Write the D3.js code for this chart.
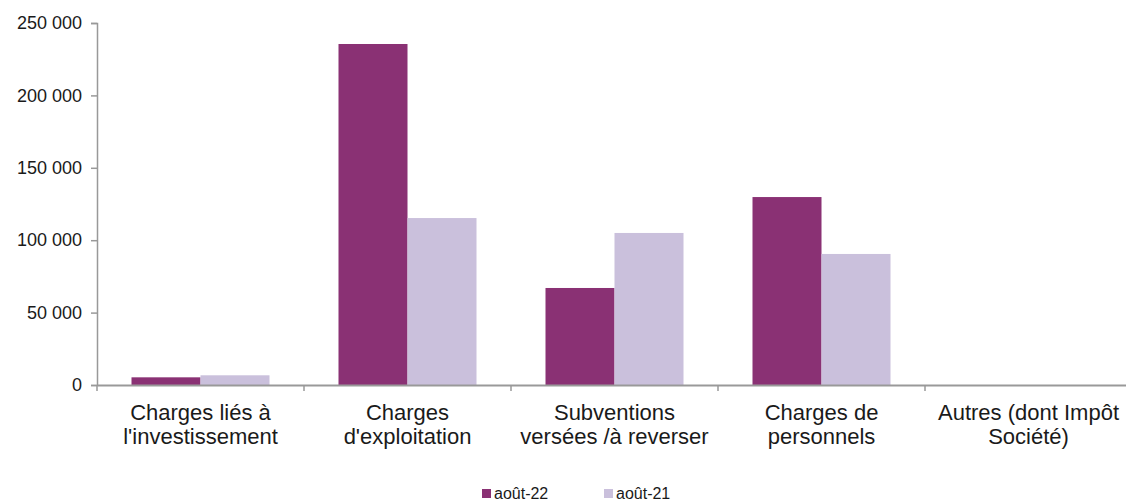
<!DOCTYPE html>
<html>
<head>
<meta charset="utf-8">
<script src="https://cdn.jsdelivr.net/npm/d3@7"></script>
<style>
  body { margin: 0; background: #fff; }
  text { font-family: "Liberation Sans", Arial, sans-serif; fill: #1a1a1a; }
</style>
</head>
<body>
<div id="chart"></div>
<script>
// categories (two-line labels)
const categories = ["Charges liés à|l'investissement", "Charges|d'exploitation", "Subventions|versées /à reverser", "Charges de|personnels", "Autres (dont Impôt|Société)"];
const series = ["août-22", "août-21"];
const aout22 = [5300, 235500, 67000, 129800, 0];
const aout21 = [6700, 115300, 105000, 90500, 0];
const yTicks = [0, 50000, 100000, 150000, 200000, 250000];

const colors = {"août-22": "#8a3174", "août-21": "#cac0dc"};

const width = 1126, height = 502;
const plotLeft = 97, plotRight = 1132, plotTop = 23, plotBottom = 385;

const svg = d3.select("#chart")
              .append("svg")
              .attr("width", width)
              .attr("height", height);

const data = categories.map(function(c, i) {
    return {cat: c, values: [{s: series[0], v: aout22[i]}, {s: series[1], v: aout21[i]}]};
});

// X scale: band per category, bars take 2/3 of band
const x = d3.scaleBand()
            .domain(categories)
            .range([plotLeft, plotRight])
            .paddingInner(0)
            .paddingOuter(0);

const xs = d3.scaleBand()
             .domain(series)
             .range([x.bandwidth() / 6, x.bandwidth() * 5 / 6]);

const y = d3.scaleLinear()
            .domain([0, 250000])
            .range([plotBottom, plotTop]);

const fmt = function(d) { return d3.format(",")(d).replace(/,/g, " "); };

// Y axis
const yAxis = svg.append("g")
   .attr("transform", `translate(${plotLeft},0)`)
   .call(d3.axisLeft(y).tickValues(yTicks).tickFormat(fmt).tickSize(6).tickPadding(9));
yAxis.select(".domain").attr("stroke", "#999").attr("stroke-width", 1.5);
yAxis.selectAll(".tick line").attr("stroke", "#999").attr("stroke-width", 1.5);
yAxis.selectAll("text").style("font-size", "18px").attr("fill", "#1a1a1a")
     .style("font-family", "'Liberation Sans', Arial, sans-serif");

// bars
svg.append("g")
   .selectAll("g")
   .data(data)
   .enter()
   .append("g")
   .attr("transform", function(d) { return `translate(${x(d.cat)},0)`; })
   .selectAll("rect")
   .data(function(d) { return d.values; })
   .enter()
   .append("rect")
    .attr("x", function(d) { return xs(d.s); })
    .attr("y", function(d) { return y(d.v); })
    .attr("width", xs.bandwidth())
    .attr("height", function(d) { return plotBottom - y(d.v); })
    .attr("fill", function(d) { return colors[d.s]; });

// X axis
const xAxis = svg.append("g")
   .attr("transform", `translate(0,${plotBottom})`)
   .call(d3.axisBottom(x).tickSize(0).tickFormat(""));
xAxis.select(".domain").attr("stroke", "#999").attr("stroke-width", 2);

// tick marks between categories
svg.append("g")
   .selectAll("line")
   .data(categories)
   .enter()
   .append("line")
    .attr("x1", function(d) { return x(d); })
    .attr("x2", function(d) { return x(d); })
    .attr("y1", plotBottom)
    .attr("y2", plotBottom + 6)
    .attr("stroke", "#999")
    .attr("stroke-width", 1.5);

// category labels
svg.append("g")
   .selectAll("text")
   .data(categories)
   .enter()
   .append("text")
    .attr("text-anchor", "middle")
    .style("font-size", "22px")
    .attr("transform", function(d) { return `translate(${x(d) + x.bandwidth() / 2},420)`; })
    .each(function(d) {
        const lines = d.split("|");
        d3.select(this).selectAll("tspan")
          .data(lines)
          .enter()
          .append("tspan")
          .attr("x", 0)
          .attr("dy", function(l, i) { return i === 0 ? 0 : 24; })
          .text(function(l) { return l; });
    });

// legend
const legendX = [482, 604];
const legend = svg.append("g")
   .selectAll("g")
   .data(series)
   .enter()
   .append("g")
   .attr("transform", function(d, i) { return `translate(${legendX[i]},489)`; });
legend.append("rect")
      .attr("width", 9)
      .attr("height", 9)
      .attr("fill", function(d) { return colors[d]; });
legend.append("text")
      .attr("x", 12)
      .attr("y", 10)
      .style("font-size", "16px")
      .text(function(d) { return d; });
</script>
</body>
</html>
